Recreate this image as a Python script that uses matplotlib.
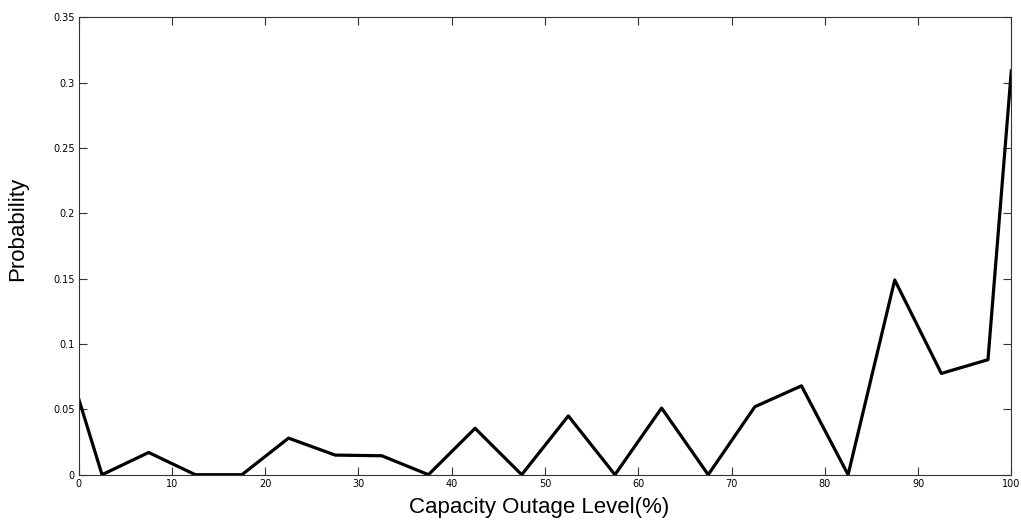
import numpy as np
import matplotlib
matplotlib.use("Agg")
import matplotlib.pyplot as plt

# capacity outage level (%) and its probability
level = [0, 2.5, 7.5, 12.5, 17.5, 22.5, 27.5, 32.5, 37.5, 42.5, 47.5,
         52.5, 57.5, 62.5, 67.5, 72.5, 77.5, 82.5, 87.5, 92.5, 97.5, 100]
prob = [0.058, 0.0, 0.017, 0.0, 0.0, 0.028, 0.015, 0.0145, 0.0, 0.0355, 0.0,
        0.045, 0.0, 0.051, 0.0, 0.052, 0.068, 0.0, 0.149, 0.0775, 0.088, 0.309]

xticks = [0, 10, 20, 30, 40, 50, 60, 70, 80, 90, 100]
yticks = [0, 0.05, 0.1, 0.15, 0.2, 0.25, 0.3, 0.35]
ytick_labels = ["0", "0.05", "0.1", "0.15", "0.2", "0.25", "0.3", "0.35"]

fig = plt.figure(figsize=(10.21, 5.22), dpi=100)
ax = fig.add_axes([0.0771, 0.0906, 0.9134, 0.8763])

ax.plot(level, prob, color="k", linewidth=2.3)

ax.set_xlim(0, 100)
ax.set_ylim(0, 0.35)
ax.set_xticks(xticks)
ax.set_yticks(yticks)
ax.set_yticklabels(ytick_labels)

tick_font = dict(family=["Liberation Sans Narrow", "DejaVu Sans"], size=7)
for lab in ax.get_xticklabels() + ax.get_yticklabels():
    lab.set_fontfamily(tick_font["family"])
    lab.set_fontsize(tick_font["size"])

ax.tick_params(direction="in", length=6, width=0.8, top=True, right=True,
               pad=3, colors="#333333", labelcolor="k")
for s in ax.spines.values():
    s.set_linewidth(0.8)
    s.set_color("#333333")

ax.set_xlabel("Capacity Outage Level(%)", fontsize=16, family="Liberation Sans")
ax.set_ylabel("Probability", fontsize=16, family="Liberation Sans")
ax.xaxis.set_label_coords(0.494, -0.048)
ax.yaxis.set_label_coords(-0.054, 0.538)

fig.savefig("out.png", dpi=100)
